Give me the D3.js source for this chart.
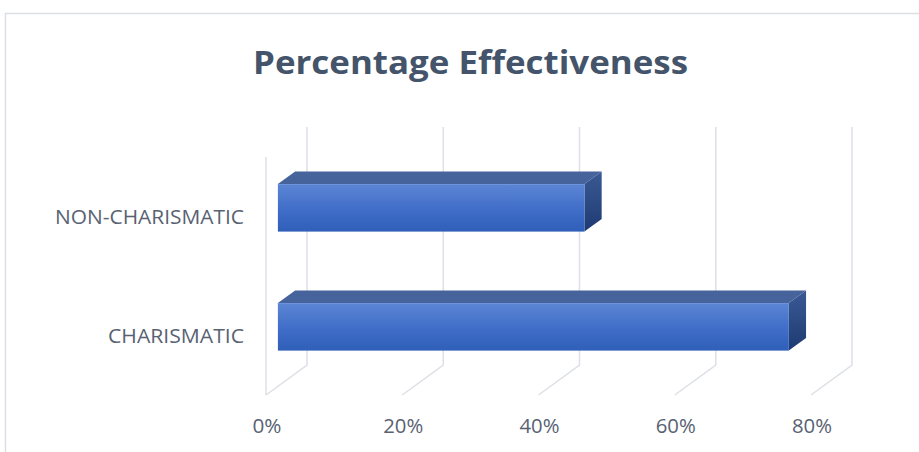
<!DOCTYPE html>
<html>
<head>
<meta charset="utf-8">
<script src="https://cdn.jsdelivr.net/npm/d3@7"></script>
<style>
  html, body { margin: 0; padding: 0; background: #ffffff; }
  svg { display: block; }
</style>
</head>
<body>
<svg id="chart" width="919" height="452"></svg>
<script>
// ---- data ----
const title = "Percentage Effectiveness";
const categories = ["NON-CHARISMATIC", "CHARISMATIC"];
const values = [0.45, 0.75];
const tickValues = [0, 0.2, 0.4, 0.6, 0.8];
const tickLabels = ["0%", "20%", "40%", "60%", "80%"];

// ---- layout ----
const W = 919, H = 452;
const front = { left: 266, right: 811, top: 157, bottom: 395 };
const depth = { dx: 41, dy: -30 };       // offset from front plane to back wall
const barDepth = [0.29, 0.71];           // bar front/back as fraction of depth
const gridColor = "#dde0e6";
const textColor = "#586272";

const svg = d3.select("#chart");
const defs = svg.append("defs");

// chart border (top and left visible)
svg.append("path")
  .attr("d", `M5.5,${H} L5.5,13.5 L${W},13.5`)
  .attr("fill", "none").attr("stroke", "#dcdfe5").attr("stroke-width", 1.5);

const x = d3.scaleLinear().domain([0, 0.8]).range([front.left, front.right]);
const y = d3.scaleBand().domain(categories).range([front.top, front.bottom])
  .paddingInner(0.6).paddingOuter(0.3);
const yCat = d3.scaleBand().domain(categories).range([front.top, front.bottom]);

const off = t => [depth.dx * t, depth.dy * t];

// gridlines on back wall + floor
const grid = svg.append("g").attr("stroke", gridColor).attr("stroke-width", 1.5).attr("fill", "none");
tickValues.forEach(v => {
  const [bx, by] = off(1);
  grid.append("path").attr("d",
    `M${x(v) + bx},${front.top + by} L${x(v) + bx},${front.bottom + by} L${x(v)},${front.bottom}`);
});
// side wall front edge
grid.append("line")
  .attr("x1", x(0)).attr("x2", x(0))
  .attr("y1", front.top).attr("y2", front.bottom);

// gradients
const gFront = defs.append("linearGradient").attr("id", "gFront")
  .attr("x1", 0).attr("y1", 0).attr("x2", 0).attr("y2", 1);
gFront.append("stop").attr("offset", "0%").attr("stop-color", "#5c85d4");
gFront.append("stop").attr("offset", "55%").attr("stop-color", "#3f6dc8");
gFront.append("stop").attr("offset", "100%").attr("stop-color", "#2f5fb9");
const gSide = defs.append("linearGradient").attr("id", "gSide")
  .attr("x1", 0).attr("y1", 0).attr("x2", 0).attr("y2", 1);
gSide.append("stop").attr("offset", "0%").attr("stop-color", "#3a5a95");
gSide.append("stop").attr("offset", "100%").attr("stop-color", "#1f3a72");

// bars
const bars = svg.append("g");
categories.forEach((c, i) => {
  const v = values[i];
  const [fx, fy] = off(barDepth[0]);
  const [kx, ky] = off(barDepth[1]);
  const x0 = x(0) + fx, x1 = x(v) + fx;
  const y0 = y(c) + fy, y1 = y(c) + y.bandwidth() + fy;
  const ddx = kx - fx, ddy = ky - fy;
  // top face
  bars.append("path")
    .attr("d", `M${x0},${y0} L${x0 + ddx},${y0 + ddy} L${x1 + ddx},${y0 + ddy} L${x1},${y0} Z`)
    .attr("fill", "#47639c");
  // right face
  bars.append("path")
    .attr("d", `M${x1},${y0} L${x1 + ddx},${y0 + ddy} L${x1 + ddx},${y1 + ddy} L${x1},${y1} Z`)
    .attr("fill", "url(#gSide)");
  // front face
  bars.append("rect")
    .attr("x", x0).attr("y", y0)
    .attr("width", x1 - x0).attr("height", y1 - y0)
    .attr("fill", "url(#gFront)");
  bars.append("line")
    .attr("x1", x0).attr("x2", x1).attr("y1", y0 + 0.5).attr("y2", y0 + 0.5)
    .attr("stroke", "#6d93dc").attr("stroke-width", 1);
});

// category labels
const catLabels = svg.append("g")
  .attr("font-family", "'Open Sans', 'Noto Sans', sans-serif")
  .attr("font-size", 19.5).attr("fill", textColor).attr("text-anchor", "end");
const catWidths = { "NON-CHARISMATIC": 189, "CHARISMATIC": 136 };
categories.forEach(c => {
  catLabels.append("text")
    .attr("x", 244)
    .attr("y", yCat(c) + yCat.bandwidth() / 2 + 7.5)
    .attr("textLength", catWidths[c]).attr("lengthAdjust", "spacingAndGlyphs")
    .text(c);
});

// value axis labels
const tickG = svg.append("g")
  .attr("font-family", "'Open Sans', 'Noto Sans', sans-serif")
  .attr("font-size", 19.5).attr("fill", textColor).attr("text-anchor", "middle");
tickValues.forEach((v, i) => {
  tickG.append("text")
    .attr("x", x(v) + 1)
    .attr("y", 433)
    .attr("textLength", tickLabels[i].length === 2 ? 29 : 40)
    .attr("lengthAdjust", "spacingAndGlyphs")
    .text(tickLabels[i]);
});

// title
svg.append("text")
  .attr("x", 470.5).attr("y", 73.5)
  .attr("text-anchor", "middle")
  .attr("font-family", "'Open Sans', 'Noto Sans', sans-serif")
  .attr("font-weight", "bold").attr("font-size", 31.5)
  .attr("fill", "#44546a")
  .attr("textLength", 435).attr("lengthAdjust", "spacingAndGlyphs")
  .text(title);
</script>
</body>
</html>
